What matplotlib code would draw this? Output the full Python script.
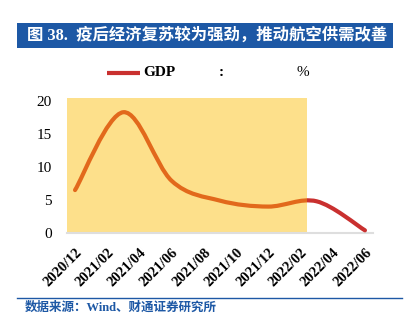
import matplotlib
matplotlib.use("Agg")
import matplotlib.pyplot as plt
from matplotlib.path import Path
from matplotlib.patches import PathPatch, Rectangle

plt.rcParams['font.family'] = ['Liberation Serif', 'Noto Sans CJK SC', 'DejaVu Sans']

# quarterly real GDP growth, plotted on a monthly axis (month 0 = 2020/12)
gdp_month = [0, 3, 6, 9, 12, 15, 18]
gdp_yoy = [6.5, 18.3, 7.9, 4.9, 4.0, 4.8, 0.4]
tick_month = [0, 2, 4, 6, 8, 10, 12, 14, 16, 18]
tick_label = ["2020/12", "2021/02", "2021/04", "2021/06", "2021/08",
              "2021/10", "2021/12", "2022/02", "2022/04", "2022/06"]
shade_end = 14.4  # recovery period shading ends just after 2022/02

ORANGE = "#e2691c"
RED = "#c9302f"
YELLOW = "#fde08b"
BLUE = "#1d58a5"


def smooth_path(xs, ys):
    # Catmull-Rom style cubic Bezier through the points (like Excel's smoothed line)
    pts = list(zip(xs, ys))
    verts = [pts[0]]
    codes = [Path.MOVETO]
    n = len(pts)
    for i in range(n - 1):
        p0 = pts[i - 1] if i > 0 else pts[i]
        p1 = pts[i]
        p2 = pts[i + 1]
        p3 = pts[i + 2] if i + 2 < n else pts[i + 1]
        c1 = (p1[0] + (p2[0] - p0[0]) / 6, p1[1] + (p2[1] - p0[1]) / 6)
        c2 = (p2[0] - (p3[0] - p1[0]) / 6, p2[1] - (p3[1] - p1[1]) / 6)
        verts += [c1, c2, p2]
        codes += [Path.CURVE4] * 3
    return Path(verts, codes)


fig = plt.figure(figsize=(4.15, 3.24), dpi=100)
ax = fig.add_axes([0.1614, 0.2809, 0.7374, 0.4166])
ax.set_xlim(-0.5, 18.5)
ax.set_ylim(0, 20.45)

ax.axvspan(-0.5, shade_end, color=YELLOW, lw=0, zorder=1)

curve = smooth_path(gdp_month, gdp_yoy)
for color, x0, x1 in [(ORANGE, -1, shade_end), (RED, shade_end, 20)]:
    patch = PathPatch(curve, facecolor="none", edgecolor=color, lw=3,
                      capstyle="round", joinstyle="round", zorder=3)
    ax.add_patch(patch)
    clip = Rectangle((x0, -2), x1 - x0, 25, transform=ax.transData)
    patch.set_clip_path(clip)

for side in ["top", "right", "left"]:
    ax.spines[side].set_visible(False)
ax.spines["bottom"].set_color("#dedede")
ax.spines["bottom"].set_linewidth(1.5)

ax.set_yticks([0, 5, 10, 15, 20])
ax.set_xticks(tick_month)
ax.set_xticklabels(tick_label, rotation=45, ha="right", va="top",
                   rotation_mode="anchor", fontweight="bold", fontsize=10.5)
ax.tick_params(axis="y", length=0, labelsize=11, pad=11)
ax.tick_params(axis="x", length=0, pad=9)

# legend row
fig.add_artist(plt.Line2D([107 / 415, 140 / 415], [1 - 73 / 324] * 2,
                          color=RED, lw=3, solid_capstyle="butt"))
fig.text(143 / 415, 1 - 73 / 324, "GDP", fontsize=11, fontweight="bold",
         va="center", ha="left")
fig.text(221 / 415, 1 - 73 / 324, ":", fontsize=11, fontweight="bold",
         va="center", ha="center")
fig.text(303 / 415, 1 - 73 / 324, "%", fontsize=11, va="center", ha="center")

# title bar
fig.add_artist(Rectangle((17 / 415, 1 - 48 / 324), 376 / 415, 25 / 324,
                         transform=fig.transFigure, color=BLUE, lw=0))
fig.text(27 / 415, 1 - 35.5 / 324, "图 38.  疫后经济复苏较为强劲，推动航空供需改善",
         color="white", fontsize=11.8, fontweight="bold", va="center", ha="left")

# source footer
fig.add_artist(plt.Line2D([17 / 415, 402 / 415], [1 - 298 / 324] * 2,
                          color=BLUE, lw=1))
fig.text(25 / 415, 1 - 308 / 324, "数据来源：Wind、财通证券研究所",
         color=BLUE, fontsize=9, fontweight="bold", va="center", ha="left")

fig.savefig("out.png", dpi=100)
